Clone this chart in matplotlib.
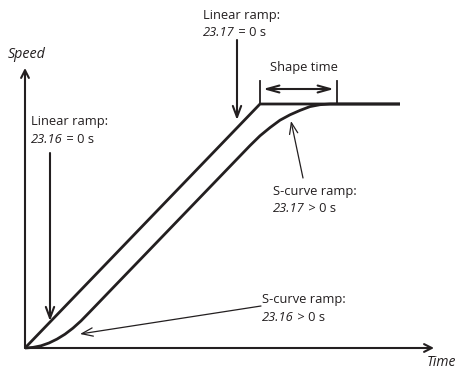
import matplotlib
matplotlib.use("Agg")
import matplotlib.pyplot as plt

plt.rcParams['font.family'] = ['Open Sans', 'DejaVu Sans']

INK = '#231f20'

# Diagram data (time units / speed units, origin at axes crossing)
linear_time = [0, 235, 375]
linear_speed = [0, 244, 244]

scurve_time = [0, 8, 16, 24, 32, 40, 48, 56, 64, 75, 90, 120, 180, 225, 235, 245, 255, 265, 275, 285, 295, 305, 375]
scurve_speed = [0, 0.6, 2.2, 5.0, 8.9, 13.8, 19.9, 27.1, 35.3, 46.7, 62.3, 93.4, 155.7, 202.4, 212.2, 220.4, 227.8, 233.2, 237.6, 241.4, 243.3, 244, 244]

shape_time_start = 235
shape_time_end = 312
top_speed = 244

axis_time_end = 409
axis_speed_end = 280

fig = plt.figure(figsize=(4.58, 3.68), dpi=100)
ax = fig.add_axes([0, 0, 1, 1])
ax.set_xlim(-25, 433)
ax.set_ylim(-20, 348)
ax.axis('off')

def arrow(tail, tip, lw, style='->', hl=0.6, hw=0.3):
    ax.annotate('', xy=tip, xytext=tail,
                arrowprops=dict(arrowstyle=f'{style},head_length={hl},head_width={hw}',
                                lw=lw, color=INK, shrinkA=0, shrinkB=0,
                                mutation_scale=10))

# axes
arrow((0, 0), (0, axis_speed_end), 1.5, hl=0.55, hw=0.28)
arrow((0, 0), (axis_time_end, 0), 1.5, hl=0.55, hw=0.28)

# ramps
ax.plot(linear_time, linear_speed, color=INK, lw=2.0, solid_capstyle='butt', solid_joinstyle='miter')
ax.plot(scurve_time, scurve_speed, color=INK, lw=2.0, solid_capstyle='butt', solid_joinstyle='round')

# shape time markers
for xv in (shape_time_start, shape_time_end):
    ax.plot([xv, xv], [top_speed, top_speed + 23], color=INK, lw=1.3)
arrow((shape_time_start + 3, top_speed + 15), (shape_time_end - 3, top_speed + 15), 1.5,
      style='<->', hl=0.9, hw=0.25)

FS = 9.3
ax.text((shape_time_start + shape_time_end) / 2 + 5, top_speed + 37, 'Shape time',
        ha='center', va='center', fontsize=FS, color=INK)

def label(x, y, title, code, rest):
    ax.text(x, y, title, ha='left', va='center', fontsize=FS, color=INK)
    t = ax.text(x, y - 17.5, code, ha='left', va='center', fontsize=FS,
                style='italic', color=INK)
    ax.annotate(rest, xy=(1, 0.5), xycoords=t, ha='left', va='center',
                fontsize=FS, color=INK)

# labels
ax.text(-17, 294, 'Speed', ha='left', va='center', fontsize=10.3, style='italic', color=INK)
ax.text(402, -14, 'Time', ha='left', va='center', fontsize=10, style='italic', color=INK)

label(6, 226, 'Linear ramp:', '23.16', ' = 0 s')
arrow((25, 195), (25, 27), 1.5, hl=0.8, hw=0.3)

label(178, 333, 'Linear ramp:', '23.17', ' = 0 s')
arrow((212, 308), (212, 228), 1.5, hl=0.8, hw=0.3)

label(248, 157, 'S-curve ramp:', '23.17', ' > 0 s')
arrow((278, 170), (266, 227), 0.9, hl=0.8, hw=0.3)

label(237, 48, 'S-curve ramp:', '23.16', ' > 0 s')
arrow((236, 42), (55, 14), 0.9, hl=0.8, hw=0.3)

fig.savefig('out.png', dpi=100)
